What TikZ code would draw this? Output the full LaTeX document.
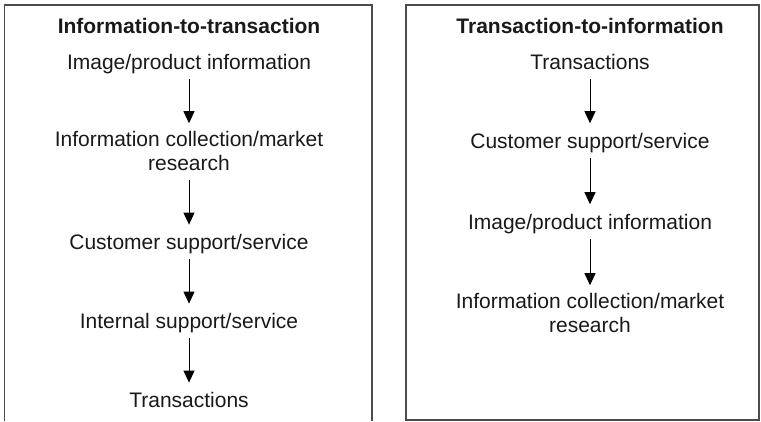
\documentclass[tikz,border=0pt]{standalone}
\usepackage{fontspec}
\setmainfont{Liberation Sans}
\usetikzlibrary{arrows.meta,positioning}

\begin{document}
\begin{tikzpicture}[x=1pt, y=1pt, node distance=55pt, >={Triangle[width=11pt,length=12pt]}, line width=1pt]
    \tikzset{
        item/.style={inner sep=0pt, outer sep=0pt, align=center, text=black!90,
            font=\fontsize{21}{24}\selectfont,
            execute at begin node=\strut, execute at end node=\strut},
        heading/.style={item, font=\fontsize{21}{24}\selectfont\bfseries},
        flow/.style={->, shorten <=2pt, shorten >=8.5pt},
        frame/.style={draw=black!70, line width=1.2pt}
    }
    \useasboundingbox (0,0) rectangle (761,421);

    % left panel, open at the bottom
    \draw[frame] (4.5,0) -- (4.5,416) -- (372,416) -- (372,0);
    \node (TA) [heading, anchor=base] at (189,387.5) {Information-to-transaction};
    \node (A1) [item, below=12pt of TA] {Image/product information};
    \node (A2) [item, below=of A1] {Information collection/market\\research};
    \node (A3) [item, below=of A2] {Customer support/service};
    \node (A4) [item, below=of A3] {Internal support/service};
    \node (A5) [item, below=of A4] {Transactions};

    \draw[flow] (A1) -- (A2);
    \draw[flow] (A2) -- (A3);
    \draw[flow] (A3) -- (A4);
    \draw[flow] (A4) -- (A5);

    % right panel
    \draw[frame] (406,1) rectangle (759,416);
    \node (TB) [heading, anchor=base] at (590,387.5) {Transaction-to-information};
    \node (B1) [item, below=12pt of TB] {Transactions};
    \node (B2) [item, below=of B1] {Customer support/service};
    \node (B3) [item, below=57pt of B2] {Image/product information};
    \node (B4) [item, below=57pt of B3] {Information collection/market\\research};

    \draw[flow] (B1) -- (B2);
    \draw[flow] (B2) -- (B3);
    \draw[flow] (B3) -- (B4);
\end{tikzpicture}
\end{document}
